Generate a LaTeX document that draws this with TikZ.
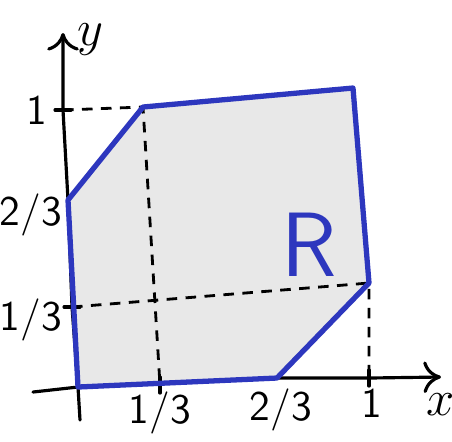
\documentclass[tikz,border=0pt]{standalone}
\usetikzlibrary{arrows.meta}
\definecolor{penblue}{RGB}{45,55,190}
\tikzset{
  axis/.style={line width=0.9pt,line cap=round},
  guide/.style={line width=0.8pt,dash pattern=on 3pt off 2.4pt},
  region/.style={penblue,line width=1.5pt,line join=round},
  ticklabel/.style={font=\large\sffamily,inner sep=1pt}
}
\begin{document}
\begin{tikzpicture}[x=0.01cm,y=-0.01cm]
  \useasboundingbox (0,0) rectangle (452,441);
  % corners of R
  \coordinate (O) at (78,387);
  \coordinate (A) at (277,378);
  \coordinate (B) at (369,283);
  \coordinate (C) at (353,88);
  \coordinate (D) at (143,107);
  \coordinate (E) at (68,200);
  % ticks and axis ends
  \coordinate (Y1) at (63,110);
  \coordinate (Y3) at (72,307);
  \coordinate (X3) at (160,385);
  \coordinate (X1) at (369,378);
  \coordinate (xs) at (33,392);
  \coordinate (xe) at (441,377);
  \coordinate (ys) at (80,420);
  \coordinate (ye) at (63,33);
  \path[fill=black!9] (O)--(A)--(B)--(C)--(D)--(E)--cycle;
  \draw[guide] (Y1)--(D)--(X3) (Y3)--(B)--(X1);
  \draw[axis,-{To[length=5pt,width=9pt]}] (xs)--(O)--(A)--(X1)--(xe);
  \draw[axis,-{To[length=5pt,width=9pt]}] (ys)--(O)--(Y3)--(E)--(Y1)--(ye);
  \draw[axis] (Y1)+(-8,0)--+(8,0) (Y3)+(-8,0)--+(8,0)
    (X3)+(0,-8)--+(0,8) (X1)+(0,-8)--+(0,8);
  \draw[region] (O)--(A)--(B)--(C)--(D)--(E)--cycle;
  \node[ticklabel] (ly1) at (37,110) {1};
  \node[ticklabel] (ly2) at (31,215) {2/3};
  \node[ticklabel] (ly3) at (31,320) {1/3};
  \node[ticklabel] (lx3) at (160,413) {1/3};
  \node[ticklabel] (lx2) at (281,410) {2/3};
  \node[ticklabel] (lx1) at (372,403) {1};
  \node[ticklabel,font=\Large] (lx) at (441,405) {$x$};
  \node[ticklabel,font=\Large] (ly) at (90,40) {$y$};
  \node[font=\fontsize{26}{28}\selectfont\sffamily,text=penblue] (R) at (309,245) {R};
\end{tikzpicture}
\end{document}
